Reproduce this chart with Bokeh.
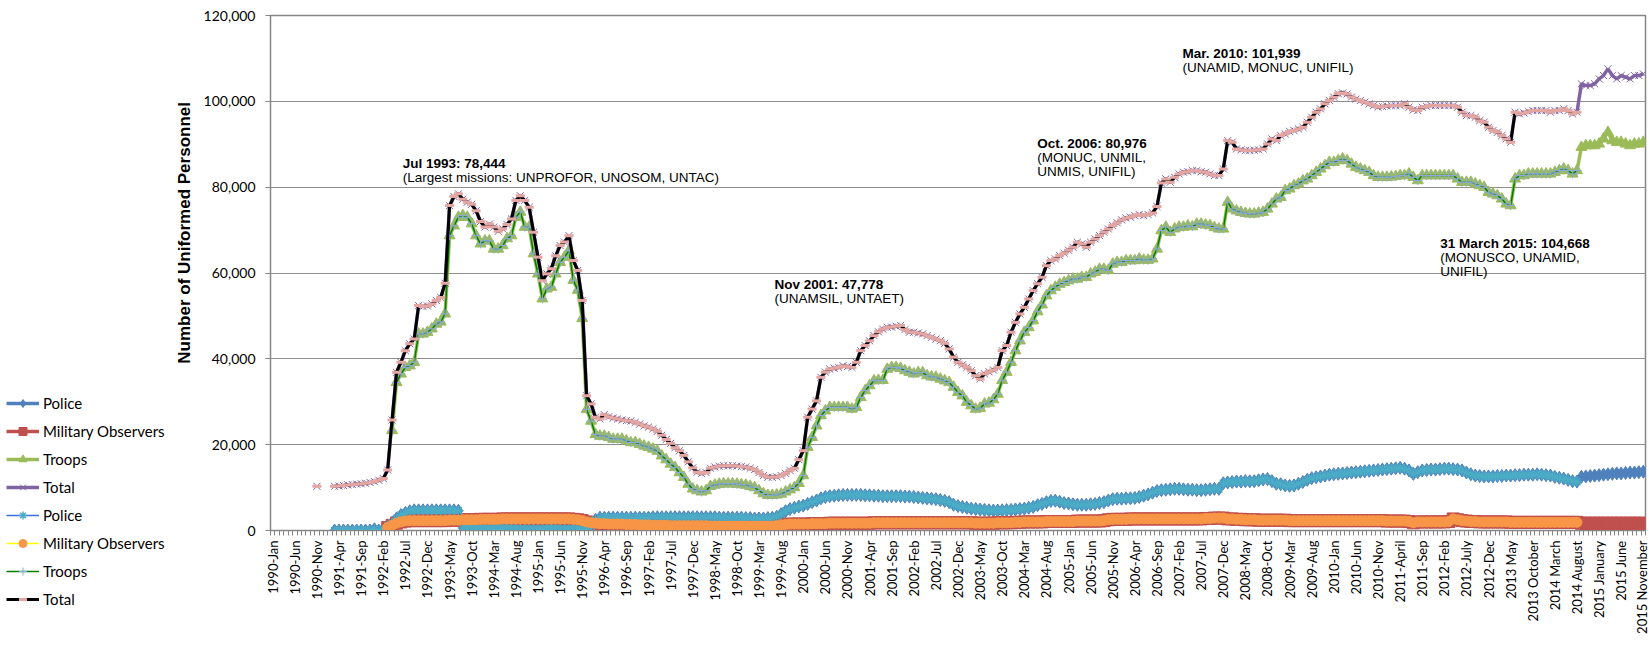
import numpy as np
from bokeh.plotting import figure
from bokeh.layouts import row
from bokeh.models import (FixedTicker, NumeralTickFormatter, Legend, LegendItem,
                          Label, Range1d)
from bokeh.embed import file_html
from bokeh.resources import INLINE

N = None

# ---- data (monthly, Jan 1990 .. Nov 2015) ----
total = (
    [N, N, N, N, N, N, N, N, N, N, 10300, N] +
    [N, N, 10300, 10350, 10500, 10600, 10700, 10800, 10900, 11000, 11200, 11400] +
    [11700, 12100, 14100, 25750, 36860, 39200, 41900, 43500, 44600, 52400, 52200, 52300] +
    [52800, 53600, 54300, 57600, 75700, 77800, 78444, 77200, 76500, 76000, 74500, 72000] +
    [70700, 71400, 70700, 69700, 70300, 71300, 72600, 76900, 78000, 76900, 75300, 69500] +
    [63700, 58200, 59800, 61000, 64000, 66400, 67200, 68700, 62900, 60600, 53600, 31400] +
    [29500, 26400, 26000, 27000, 26500, 26200, 26000, 25750, 25600, 25500, 25200, 24800] +
    [24400, 24100, 23700, 23100, 22200, 21200, 20300, 19300, 18600, 17500, 16000, 14600] +
    [13600, 13300, 13500, 14500, 14800, 15000, 15100, 15100, 15100, 15000, 14900, 14800] +
    [14500, 14200, 13500, 12800, 12400, 12400, 12500, 12800, 13300, 14000, 14500, 16500] +
    [18600, 26400, 28300, 30200, 35700, 36900, 37600, 37800, 38000, 38400, 38200, 38000] +
    [39200, 41900, 43100, 44200, 45400, 46300, 46900, 47350, 47400, 47600, 47778, 46800] +
    [46200, 46200, 46000, 45800, 45400, 45000, 44600, 44240, 43600, 42300, 40400, 39200] +
    [38600, 38000, 37250, 36080, 35300, 36500, 37000, 37400, 38000, 41900, 43100, 46200] +
    [48500, 50460, 52000, 53950, 55900, 57500, 59000, 61700, 62900, 63280, 64060, 64600] +
    [65300, 66000, 67170, 66780, 66000, 67170, 67950, 68720, 69500, 70270, 71050, 71700] +
    [72370, 72840, 73000, 73380, 73610, 73380, 73610, 74000, 75500, 80976, 81930, 81150] +
    [82300, 83090, 83480, 83600, 83870, 83870, 83600, 83480, 83090, 82700, 82700, 84260] +
    [90860, 90470, 88920, 88700, 88530, 88530, 88600, 88690, 88920, 90080, 91250, 90860] +
    [92030, 92420, 93000, 93190, 93580, 93970, 95140, 96300, 97470, 98240, 99410, 100200] +
    [100960, 101800, 101939, 101700, 101000, 100500, 100190, 99800, 99410, 99020, 98630, 98790] +
    [98900, 99020, 99020, 99020, 99410, 98630, 98010, 97860, 98630, 98800, 99020, 99020] +
    [99020, 99020, 99020, 99020, 98630, 97470, 96690, 96690, 96300, 95500, 95140, 93970] +
    [93190, 92800, 92030, 91250, 90470, 97470, 97080, 97300, 97600, 97860, 97860, 97860] +
    [97860, 97470, 97860, 97860, 98250, 97860, 97080, 97470, 104070, 103680, 103680, 104070] +
    [105240, 106010, 107570, 106010, 105240, 106010, 105630, 105240, 106010, 106010, 106400]
)

troops = (
    [N] * 12 + [N] * 12 +
    [N, N, N, 23300, 34500, 36500, 38000, 38400, 39200, 45800, 45800, 46200] +
    [47000, 48100, 48600, 50500, 68700, 71000, 73000, 73400, 73000, 71500, 68700, 66800] +
    [67500, 67500, 65600, 65600, 66400, 68000, 68700, 73000, 74200, 70700, 70700, 64500] +
    [59800, 54000, 56300, 56700, 59800, 62500, 63700, 65200, 58300, 56000, 49400, 28200] +
    [25500, 22400, 22000, 22000, 21700, 21300, 21300, 21300, 20900, 20500, 20500, 20100] +
    [19700, 19400, 19000, 18500, 17400, 16500, 15500, 14700, 13500, 12400, 10800, 9700] +
    [9300, 9000, 9300, 10300, 10600, 10800, 10900, 10900, 10900, 10800, 10700, 10600] +
    [10300, 10000, 9300, 8600, 8200, 8200, 8300, 8500, 9000, 9500, 10000, 11000] +
    [12800, 19400, 21700, 24400, 26800, 27900, 28700, 28700, 28700, 28700, 28700, 28300] +
    [28700, 31000, 32600, 33750, 34900, 35000, 35000, 37600, 38000, 38000, 37800, 37250] +
    [36900, 36500, 36800, 36800, 36100, 35800, 35700, 35300, 34900, 34500, 33400, 32200] +
    [31400, 29900, 29100, 28300, 28500, 29500, 29700, 30500, 31800, 35000, 36900, 39200] +
    [41900, 44200, 46200, 47300, 48900, 51000, 52600, 54700, 55900, 56700, 57400, 57800] +
    [58200, 58600, 58600, 59000, 59000, 59800, 60200, 60900, 60900, 60600, 62100, 62500] +
    [62500, 62900, 62900, 62900, 63300, 63000, 63000, 63300, 65600, 69900, 70700, 69500] +
    [70300, 70700, 70700, 71000, 70800, 71400, 71400, 71200, 71050, 70600, 70270, 70270] +
    [76490, 74930, 74500, 74160, 73900, 73770, 73770, 74000, 74160, 74930, 76100, 77270] +
    [77650, 79210, 79600, 80370, 80760, 81500, 81930, 82700, 83480, 84260, 85040, 85810] +
    [85810, 86200, 86590, 86200, 85400, 84650, 84260, 83870, 83480, 82700, 82320, 82320] +
    [82320, 82400, 82500, 82700, 82700, 83090, 82320, 81540, 82700, 82700, 82700, 82700] +
    [82700, 82700, 82700, 82700, 81930, 81150, 81150, 81150, 80760, 80370, 79980, 78820] +
    [78430, 78040, 77270, 76100, 75710, 81930, 82700, 82700, 83090, 83090, 83090, 83090] +
    [83090, 83090, 83480, 83870, 84260, 83870, 83090, 83870, 89300, 89700, 89700, 89700] +
    [90080, 91250, 92800, 90860, 90470, 90470, 90080, 89700, 90080, 90080, 90470]
)

police = (
    [N] * 12 +
    [N, N, 0, 0, 0, 0, 0, 0, 0, 0, 0, 300] +
    [0, 300, 1100, 1800, 2800, 3600, 4100, 4500, 4700, 4700, 4700, 4700] +
    [4700, 4700, 4700, 4700, 4700, 4700, 4600, 600, 500, 500, 500, 500] +
    [500, 500, 600, 600, 600, 500, 500, 500, 400, 400, 400, 400] +
    [400, 400, 500, 500, 500, 400, 400, 400, 400, 400, 300, 300] +
    [1000, 2500, 3000, 3000, 3000, 3000, 3000, 3000, 3000, 3000, 3000, 3000] +
    [3000, 3000, 3100, 3100, 3100, 3100, 3100, 3100, 3100, 3100, 3100, 3100] +
    [3100, 3100, 3100, 3100, 3100, 3000, 3000, 3000, 3000, 3000, 3000, 2900] +
    [2900, 2800, 2800, 2800, 2900, 3000, 3200, 3800, 4500, 5000, 5300, 5600] +
    [5800, 6200, 6600, 7000, 7500, 7800, 8000, 8100, 8200, 8300, 8300, 8300] +
    [8300, 8300, 8200, 8200, 8100, 8100, 8000, 8000, 8000, 8000, 8000, 7900] +
    [7900, 7800, 7700, 7600, 7500, 7400, 7300, 7100, 6900, 6600, 6000, 5700] +
    [5500, 5300, 5100, 5000, 4900, 4800, 4700, 4650, 4650, 4700, 4750, 4800] +
    [4900, 5000, 5100, 5300, 5500, 5900, 6200, 6600, 6900, 6950, 6700, 6400] +
    [6300, 6100, 6000, 6000, 6000, 6100, 6200, 6400, 6600, 7000, 7300, 7400] +
    [7400, 7500, 7500, 7600, 7800, 8100, 8400, 8800, 9200, 9400, 9500, 9600] +
    [9700, 9700, 9600, 9500, 9500, 9400, 9400, 9500, 9600, 9700, 9700, 11000] +
    [11200, 11300, 11400, 11400, 11500, 11450, 11500, 11700, 11900, 12000, 11500, 10900] +
    [10800, 10500, 10400, 10500, 10900, 11300, 11800, 12200, 12400, 12600, 12800, 13000] +
    [13100, 13200, 13300, 13400, 13500, 13600, 13700, 13800, 13900, 14000, 14100, 14200] +
    [14300, 14400, 14500, 14600, 14400, 14000, 13200, 13600, 14000, 14100, 14200, 14200] +
    [14300, 14400, 14400, 14300, 14200, 14000, 13500, 13100, 12800, 12700, 12600, 12600] +
    [12600, 12700, 12700, 12800, 12800, 12900, 12900, 13000, 13000, 13000, 13100, 13000] +
    [12900, 12800, 12500, 12300, 12100, 11800, 11500, 11400, 12500, 12600, 12700, 12800] +
    [12900, 13000, 13100, 13200, 13300, 13300, 13400, 13500, 13500, 13600, 13700]
)

observers = (
    [N] * 12 + [N] * 12 +
    [N, N, 700, 1200, 1700, 2000, 2200, 2300, 2300, 2300, 2300, 2300] +
    [2300, 2300, 2300, 2300, 2400, 2400, 2400, 2500, 2500, 2500, 2500, 2600] +
    [2600, 2600, 2600, 2600, 2700, 2700, 2700, 2700, 2700, 2700, 2700, 2700] +
    [2700, 2700, 2700, 2700, 2700, 2700, 2700, 2700, 2600, 2500, 2300, 2000] +
    [1800, 1700, 1600, 1600, 1500, 1500, 1500, 1500, 1400, 1400, 1400, 1300] +
    [1300, 1300, 1200, 1200, 1200, 1200, 1100, 1100, 1100, 1100, 1100, 1100] +
    [1100, 1100, 1100, 1000, 1000, 1000, 1000, 1000, 1000, 1000, 1000, 1000] +
    [1000, 1000, 1000, 1000, 1000, 1000, 1100, 1300, 1400, 1500, 1500, 1500] +
    [1500, 1500, 1600, 1600, 1600, 1600, 1700, 1700, 1700, 1700, 1700, 1700] +
    [1700, 1700, 1700, 1700, 1800, 1800, 1800, 1800, 1800, 1800, 1800, 1800] +
    [1800, 1800, 1800, 1800, 1800, 1800, 1800, 1800, 1800, 1800, 1800, 1800] +
    [1800, 1800, 1800, 1700, 1700, 1700, 1700, 1700, 1800, 1800, 1800, 1800] +
    [1900, 1900, 2000, 2000, 2000, 2000, 2000, 2100, 2100, 2100, 2100, 2100] +
    [2100, 2100, 2200, 2200, 2200, 2200, 2200, 2200, 2300, 2500, 2600, 2600] +
    [2600, 2600, 2700, 2700, 2700, 2700, 2700, 2700, 2700, 2700, 2700, 2700] +
    [2700, 2700, 2700, 2700, 2700, 2700, 2700, 2800, 2800, 2900, 2900, 2900] +
    [2700, 2700, 2600, 2600, 2500, 2500, 2500, 2400, 2400, 2400, 2400, 2400] +
    [2400, 2400, 2300, 2300, 2300, 2300, 2300, 2300, 2300, 2300, 2300, 2300] +
    [2300, 2300, 2300, 2300, 2300, 2300, 2300, 2300, 2300, 2300, 2300, 2300] +
    [2200, 2200, 2200, 2200, 2200, 2100, 1800, 2000, 2000, 2000, 2000, 2000] +
    [2000, 2000, 2100, 2700, 2500, 2300, 2200, 2100, 2100, 2000, 2000, 2000] +
    [2000, 2000, 2000, 2000, 1900, 1900, 1900, 1900, 1900, 1900, 1900, 1900] +
    [1900, 1900, 1900, 1900, 1900, 1900, 1900, 1900, 1700, 1700, 1700, 1700] +
    [1700, 1700, 1700, 1700, 1700, 1700, 1700, 1700, 1700, 1700, 1700]
)

# the second (overlay) set of series stops at 2014 August
second_set_last_month = "2014 August"

tick_labels = [
    "1990-Jan", "1990-Jun", "1990-Nov", "1991-Apr", "1991-Sep", "1992-Feb", "1992-Jul",
    "1992-Dec", "1993-May", "1993-Oct", "1994-Mar", "1994-Aug", "1995-Jan", "1995-Jun",
    "1995-Nov", "1996-Apr", "1996-Sep", "1997-Feb", "1997-Jul", "1997-Dec", "1998-May",
    "1998-Oct", "1999-Mar", "1999-Aug", "2000-Jan", "2000-Jun", "2000-Nov", "2001-Apr",
    "2001-Sep", "2002-Feb", "2002-Jul", "2002-Dec", "2003-May", "2003-Oct", "2004-Mar",
    "2004-Aug", "2005-Jan", "2005-Jun", "2005-Nov", "2006-Apr", "2006-Sep", "2007-Feb",
    "2007-Jul", "2007-Dec", "2008-May", "2008-Oct", "2009-Mar", "2009-Aug", "2010-Jan",
    "2010-Jun", "2010-Nov", "2011-April", "2011-Sep", "2012-Feb", "2012-July", "2012-Dec",
    "2013 May", "2013 October", "2014 March", "2014 August", "2015 January", "2015 June",
    "2015 November",
]
label_step = 5  # one label every five months

annotations = [
    # (bold first line, further lines, month index, value at first baseline)
    ("Jul 1993: 78,444", ["(Largest missions: UNPROFOR, UNOSOM, UNTAC)"], 29.4, 84640),
    ("Nov 2001: 47,778", ["(UNAMSIL, UNTAET)"], 113.5, 56300),
    ("Oct. 2006: 80,976", ["(MONUC, UNMIL,", "UNMIS, UNIFIL)"], 172.9, 89160),
    ("Mar. 2010: 101,939", ["(UNAMID, MONUC, UNIFIL)"], 205.8, 110280),
    ("31 March 2015: 104,668", ["(MONUSCO, UNAMID,", "UNIFIL)"], 264.1, 65850),
]

# ---- build ----
n = len(total)
x = np.arange(n)
tot = np.array(total, dtype=float)
trp = np.array(troops, dtype=float)
pol = np.array(police, dtype=float)
obs = np.array(observers, dtype=float)
cut = tick_labels.index(second_set_last_month) * label_step


def upto(a):
    b = a.copy()
    b[cut + 1:] = np.nan
    return b


FONT = "Lato"
grey = "#868686"
H = 645
LEG_W = 166

# series: first set (full range), then overlay set (to Aug 2014)
specs = [
    ("Police", pol, dict(color="#4F81BD", width=3.5), dict(marker="diamond", size=13, fill="#4F81BD", line="#4F81BD", lw=1)),
    ("Military Observers", obs, dict(color="#C0504D", width=3.5), dict(marker="square", size=12, fill="#C0504D", line="#C0504D", lw=1)),
    ("Troops", trp, dict(color="#9BBB59", width=3.5), dict(marker="triangle", size=11, fill="#9BBB59", line="#9BBB59", lw=1)),
    ("Total", tot, dict(color="#8064A2", width=3.5), dict(marker="x", size=10, fill=None, line="#8064A2", lw=1)),
]
specs2 = [
    ("Police", upto(pol), dict(color="#3A6FE0", width=1.5), dict(marker="asterisk", size=10, fill=None, line="#4BACC6", lw=1.5)),
    ("Military Observers", upto(obs), dict(color="#FFFF00", width=1.5), dict(marker="circle", size=10, fill="#F79646", line="#F79646", lw=1)),
    ("Troops", upto(trp), dict(color="#008000", width=1.5), dict(marker="cross", size=9, fill=None, line="#8EA9DB", lw=1)),
    ("Total", upto(tot), dict(color="black", width=3), dict(marker="dash", size=9, fill=None, line="#E3A6A3", lw=3)),
]

# ---- main chart ----
p = figure(width=1649 - LEG_W, height=H, output_backend="svg", toolbar_location=None,
           x_range=Range1d(-0.5, n - 0.5), y_range=Range1d(0, 120000),
           min_border_left=270 - LEG_W, min_border_right=4, min_border_top=15,
           min_border_bottom=115, background_fill_color="white",
           border_fill_color="white")
p.outline_line_color = "#868686"
p.outline_line_width = 1.5

# y axis
p.yaxis.ticker = FixedTicker(ticks=list(range(0, 120001, 20000)))
p.yaxis.formatter = NumeralTickFormatter(format="0,0")
p.yaxis.major_tick_out = 5
p.yaxis.major_tick_in = 0
p.yaxis.minor_tick_line_color = None
p.yaxis.axis_line_color = grey
p.yaxis.major_tick_line_color = grey
p.yaxis.major_label_standoff = 10
p.yaxis.major_label_text_font = FONT
p.yaxis.major_label_text_font_size = "14px"
p.yaxis.major_label_text_color = "black"
p.yaxis.axis_label = "\u00a0" * 17 + "Number of Uniformed Personnel"
p.yaxis.axis_label_text_font = "Liberation Sans"
p.yaxis.axis_label_text_font_style = "bold"
p.yaxis.axis_label_text_font_size = "17px"
p.yaxis.axis_label_text_color = "black"
p.yaxis.axis_label_standoff = 7

# x axis
majors = list(range(0, n, label_step))
p.xaxis.ticker = FixedTicker(ticks=majors,
                             minor_ticks=[k - 0.5 for k in range(0, n + 1)])
p.xaxis.major_label_overrides = {m: lab for m, lab in zip(majors, tick_labels)}
p.xaxis.major_label_orientation = np.pi / 2
p.xaxis.major_tick_out = 5
p.xaxis.major_tick_in = 0
p.xaxis.major_tick_line_color = None
p.xaxis.minor_tick_out = 5
p.xaxis.minor_tick_in = 0
p.xaxis.minor_tick_line_color = grey
p.xaxis.axis_line_color = grey
p.xaxis.major_label_standoff = 5
p.xaxis.major_label_text_font = FONT
p.xaxis.major_label_text_font_size = "13px"
p.xaxis.major_label_text_color = "black"

p.xgrid.grid_line_color = None
p.ygrid.grid_line_color = "#8E8E8E"
p.ygrid.grid_line_width = 1

for name, arr, ls, ms in specs + specs2:
    p.line(x, arr, line_color=ls["color"], line_width=ls["width"])
    p.scatter(x, arr, marker=ms["marker"], size=ms["size"],
              fill_color=ms["fill"], line_color=ms["line"], line_width=ms["lw"])

for head, rest, mx, vy in annotations:
    p.add_layout(Label(x=mx, y=vy, y_offset=4, text=head, text_font="Liberation Sans",
                       text_font_size="13.5px", text_font_style="bold",
                       text_baseline="alphabetic", text_color="black"))
    for k, line in enumerate(rest):
        p.add_layout(Label(x=mx, y=vy, y_offset=4 - 14 * (k + 1), text=line,
                           text_font="Liberation Sans", text_font_size="13.5px",
                           text_baseline="alphabetic", text_color="black"))

# ---- legend strip on the left (its own canvas, the series are out of its view) ----
lg = figure(width=LEG_W, height=H, output_backend="svg", toolbar_location=None,
            x_axis_type=None, y_axis_type=None, min_border=0,
            x_range=Range1d(-20, -10), y_range=Range1d(-20, -10),
            background_fill_color="white", border_fill_color="white")
lg.outline_line_color = None
lg.xgrid.grid_line_color = None
lg.ygrid.grid_line_color = None
for fig in (lg, p):
    if hasattr(fig, "frame_align"):
        fig.frame_align = False
items = []
for name, arr, ls, ms in specs + specs2:
    lr = lg.line(x, arr, line_color=ls["color"], line_width=ls["width"])
    sr = lg.scatter(x, arr, marker=ms["marker"], size=ms["size"],
                    fill_color=ms["fill"], line_color=ms["line"], line_width=ms["lw"])
    items.append(LegendItem(label=name, renderers=[lr, sr]))
legend = Legend(items=items, location=(6, 36), orientation="vertical",
                glyph_width=33, glyph_height=20, label_height=20, spacing=8,
                padding=0, margin=0, label_standoff=4,
                border_line_color=None, background_fill_alpha=0,
                label_text_font=FONT, label_text_font_size="15px",
                label_text_color="black")
lg.add_layout(legend)

layout = row(lg, p)
open("out.html", "w").write(file_html(layout, INLINE))
